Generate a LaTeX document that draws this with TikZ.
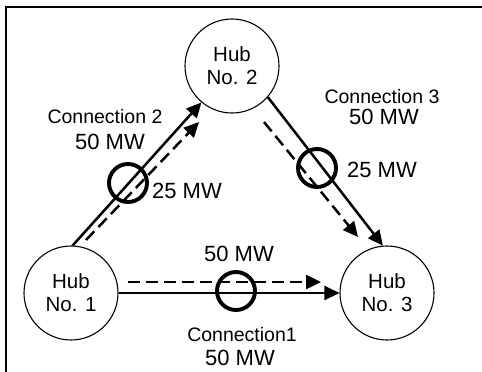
\documentclass[tikz,border=0pt]{standalone}
\usepackage{fontspec}
\setmainfont{Liberation Sans}
\usetikzlibrary{arrows.meta}
\begin{document}
\begin{tikzpicture}[x=1pt,y=-1pt,
  hub/.style={circle,draw,line width=1.1pt,minimum size=94pt,inner sep=0pt,align=center,
    font=\fontsize{20.5}{23}\selectfont},
  ring/.style={circle,draw,line width=3.9pt,minimum size=38pt,inner sep=0pt},
  conn/.style={line width=2.5pt,-{Triangle[length=15pt,width=14pt]}},
  dconn/.style={conn,dash pattern=on 12pt off 6pt},
  lab/.style={inner sep=0pt,font=\fontsize{19.5}{22}\selectfont},
  mw/.style={inner sep=0pt,font=\fontsize{22}{25}\selectfont},
  frame/.style={line width=1.2pt}]
\useasboundingbox (0,0) rectangle (482,372);
% frame
\coordinate (fa) at (482,7);
\coordinate (fb) at (6,7);
\coordinate (fc) at (6,372);
\draw[frame] (fa) -- (fb) -- (fc);
% hubs
\node[hub] (h1) at (71,293) {Hub\\No. 1};
\node[hub] (h2) at (232,66) {Hub\\No. 2};
\node[hub] (h3) at (387,293) {Hub\\No. 3};
% dashed ends
\coordinate (d1a) at (128,282);
\coordinate (d1b) at (321,282);
\coordinate (d2a) at (86,240);
\coordinate (d2b) at (199,122);
\coordinate (d3a) at (264,122);
\coordinate (d3b) at (358,237);
% connections
\draw[conn] (h1.east) -- (h3.west);
\draw[dconn] (d1a) -- (d1b);
\draw[conn] (h1.88) -- (h2.230);
\draw[dconn] (d2a) -- (d2b);
\draw[conn] (h2.-41) -- (h3.95);
\draw[dconn] (d3a) -- (d3b);
% rings
\node[ring] (r1) at (236,291) {};
\node[ring] (r2) at (128,183) {};
\node[ring] (r3) at (317,168) {};
% labels
\node[mw] (l1a) at (239,254) {50 MW};
\node[lab] (l1b) at (242,335) {Connection1};
\node[mw] (l1c) at (240,358) {50 MW};
\node[lab] (l2a) at (105,117) {Connection 2};
\node[mw] (l2b) at (110,142) {50 MW};
\node[mw] (l2c) at (187,191) {25 MW};
\node[lab] (l3a) at (382,97) {Connection 3};
\node[mw] (l3b) at (384,117) {50 MW};
\node[mw] (l3c) at (382,170) {25 MW};
\end{tikzpicture}
\end{document}
